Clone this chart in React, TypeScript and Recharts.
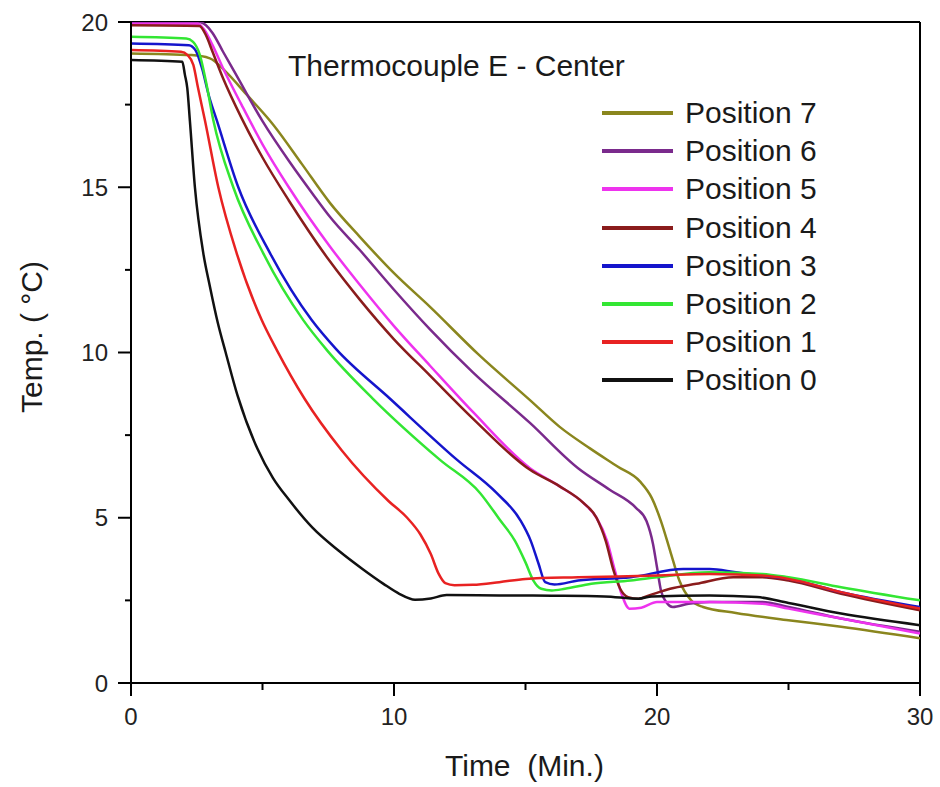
import React from 'react';
import { LineChart, Line, XAxis, YAxis, ReferenceLine } from 'recharts';

const xTicks = [0, 5, 10, 15, 20, 25, 30];
const yTicks = [0, 2.5, 5, 7.5, 10, 12.5, 15, 17.5, 20];

const pos0: [number, number][] = [
  [0, 18.85], [1.95, 18.8], [2.05, 18.4], [2.14, 18.0], [2.24, 17.0], [2.43, 15.0], [2.75, 13.0], [3.0, 12.0],
  [3.3, 10.9], [3.6, 10.0], [4.05, 8.7], [4.8, 7.1], [5.4, 6.2], [6.0, 5.55], [6.9, 4.7], [7.9, 4.0],
  [8.8, 3.45], [9.6, 3.0], [10.2, 2.7], [10.8, 2.52], [11.4, 2.56], [12, 2.66], [14, 2.65], [16, 2.64],
  [18, 2.62], [19.3, 2.55], [19.8, 2.62], [22, 2.65], [23.8, 2.6], [25, 2.42], [27, 2.1], [30, 1.75],
];
const pos1: [number, number][] = [
  [0, 19.15], [1.9, 19.1], [2.15, 19.0], [2.37, 18.7], [2.55, 18.0], [2.81, 17.03], [3.32, 15.0], [4.02, 13.0],
  [4.97, 10.98], [5.54, 10.08], [6.6, 8.6], [8.0, 7.05], [9.8, 5.5], [10.5, 5.0], [11.0, 4.5], [11.4, 3.9],
  [11.7, 3.3], [11.95, 3.02], [12.3, 2.96], [13.0, 2.97], [14, 3.05], [15, 3.15], [17, 3.2], [20, 3.25],
  [22, 3.3], [24, 3.25], [25, 3.15], [27, 2.75], [30, 2.25],
];
const pos2: [number, number][] = [
  [0, 19.55], [2.1, 19.5], [2.36, 19.4], [2.62, 19.0], [2.85, 18.2], [3.13, 17.03], [3.89, 15.0], [5.03, 13.0],
  [6.55, 10.98], [7.44, 10.08], [9.2, 8.6], [11.75, 6.75], [13.27, 5.75], [14.03, 4.93], [14.6, 4.3],
  [15.0, 3.65], [15.3, 3.1], [15.6, 2.85], [16.0, 2.8], [16.5, 2.85], [17.5, 3.0], [19, 3.1], [20, 3.2],
  [22, 3.35], [24, 3.3], [25, 3.2], [27, 2.9], [30, 2.5],
];
const pos3: [number, number][] = [
  [0, 19.35], [2.2, 19.3], [2.45, 19.15], [2.7, 18.6], [2.95, 17.8], [3.26, 17.03], [4.08, 15.0], [5.29, 13.0],
  [6.87, 10.98], [7.8, 10.1], [9.85, 8.6], [12.4, 6.75], [13.9, 5.75], [14.8, 4.93], [15.2, 4.3], [15.5, 3.6],
  [15.75, 3.05], [16.1, 2.98], [17, 3.1], [19, 3.2], [21, 3.45], [22, 3.45], [23, 3.35], [24, 3.25],
  [25, 3.15], [27, 2.75], [30, 2.3],
];
const pos4: [number, number][] = [
  [0, 19.9], [2.6, 19.88], [2.85, 19.6], [3.1, 19.1], [3.5, 18.3], [4.2, 17.1], [5, 15.9], [6, 14.6],
  [7.57, 12.75], [8.7, 11.6], [10, 10.4], [11.37, 9.3], [13, 8.0], [15.17, 6.45], [16.3, 5.95], [17.2, 5.45],
  [17.7, 5.0], [18.05, 4.3], [18.35, 3.4], [18.6, 2.85], [18.9, 2.6], [19.3, 2.55], [19.7, 2.65], [20.5, 2.85],
  [21.5, 3.0], [22.9, 3.2], [24, 3.2], [25, 3.1], [27, 2.7], [30, 2.2],
];
const pos5: [number, number][] = [
  [0, 19.95], [2.55, 19.95], [2.8, 19.75], [3.1, 19.3], [3.5, 18.6], [4.2, 17.5], [5, 16.3], [6, 15.0],
  [7.57, 13.2], [8.7, 12.05], [10, 10.8], [11.37, 9.6], [13, 8.2], [15.17, 6.5], [16.3, 5.95], [17.2, 5.45],
  [17.7, 5.0], [18.1, 4.3], [18.4, 3.4], [18.65, 2.7], [18.95, 2.25], [19.4, 2.28], [20, 2.45], [22, 2.45],
  [24, 2.4], [25, 2.25], [27, 1.95], [30, 1.5],
];
const pos6: [number, number][] = [
  [0, 20], [2.6, 20], [2.85, 19.9], [3.1, 19.67], [3.5, 19.1], [4.0, 18.4], [5, 17.0], [6, 15.8], [7, 14.7],
  [7.57, 14.1], [8.7, 13.1], [10, 11.9], [11.37, 10.7], [13, 9.4], [15.17, 7.87], [17, 6.5], [18.2, 5.85],
  [19.2, 5.3], [19.6, 4.9], [19.85, 4.2], [20.0, 3.5], [20.15, 2.8], [20.35, 2.45], [20.6, 2.3], [21.2, 2.4],
  [22, 2.45], [24, 2.45], [25, 2.3], [27, 1.95], [30, 1.55],
];
const pos7: [number, number][] = [
  [0, 19.05], [2.3, 19.0], [3.0, 18.9], [3.6, 18.5], [4.4, 17.8], [5.4, 16.9], [6.5, 15.7], [7.57, 14.52],
  [8.7, 13.5], [10, 12.4], [11.37, 11.38], [13.2, 9.95], [15.17, 8.56], [16.3, 7.75], [17.45, 7.1],
  [18.5, 6.55], [19.35, 6.1], [19.8, 5.6], [20.15, 4.9], [20.5, 4.0], [20.85, 3.1], [21.3, 2.5], [21.75, 2.3],
  [23, 2.12], [25, 1.9], [27, 1.7], [30, 1.35],
];

const seriesNames = ['Position 7', 'Position 6', 'Position 5', 'Position 4', 'Position 3', 'Position 2', 'Position 1', 'Position 0'];
const seriesColors = ['#8a861e', '#7a2a8c', '#ee33ee', '#8a1c1c', '#1515cc', '#33e633', '#e82222', '#111111'];
const seriesValues = [pos7, pos6, pos5, pos4, pos3, pos2, pos1, pos0];

const FONT = '"Liberation Sans", Arial, sans-serif';

const toData = (arr: [number, number][]) => arr.map(([t, v]) => ({ t, v }));

const XTick = (props: any) => {
  const { x, y, payload } = props;
  const major = payload.value % 10 === 0;
  return (
    <g>
      <line x1={x} y1={y} x2={x} y2={y + (major ? 13 : 7)} stroke="#000" strokeWidth={2} />
      {major && (
        <text x={x} y={y + 42} textAnchor="middle" fontSize={24} fontFamily={FONT} fill="#222">
          {payload.value}
        </text>
      )}
    </g>
  );
};

const YTick = (props: any) => {
  const { x, y, payload } = props;
  const major = payload.value % 5 === 0;
  return (
    <g>
      <line x1={x} y1={y} x2={x - (major ? 13 : 6)} y2={y} stroke="#000" strokeWidth={2} />
      {major && (
        <text x={x - 23} y={y + 8.5} textAnchor="end" fontSize={24} fontFamily={FONT} fill="#222">
          {payload.value}
        </text>
      )}
    </g>
  );
};

export default function App() {
  return (
    <div style={{ position: 'absolute', left: 0, top: 0, width: 940, height: 787, background: '#fff' }}>
      <LineChart width={940} height={787} margin={{ top: 22, right: 20, bottom: 0, left: 0 }}>
        <XAxis
          type="number"
          dataKey="t"
          domain={[0, 30]}
          ticks={xTicks}
          interval={0}
          height={104}
          tickSize={0}
          tickMargin={0}
          tickLine={false}
          axisLine={{ stroke: '#000', strokeWidth: 2 }}
          tick={<XTick />}
          allowDataOverflow
        />
        <YAxis
          type="number"
          domain={[0, 20]}
          ticks={yTicks}
          interval={0}
          width={131}
          tickSize={0}
          tickMargin={0}
          tickLine={false}
          axisLine={{ stroke: '#000', strokeWidth: 2 }}
          tick={<YTick />}
          allowDataOverflow
        />
        <ReferenceLine y={20} stroke="#000" strokeWidth={2} />
        <ReferenceLine x={30} stroke="#000" strokeWidth={2} />
        {seriesValues.map((arr, i) => (
          <Line
            key={seriesNames[i]}
            data={toData(arr)}
            dataKey="v"
            name={seriesNames[i]}
            type="monotone"
            stroke={seriesColors[i]}
            strokeWidth={2.5}
            dot={false}
            activeDot={false}
            isAnimationActive={false}
          />
        ))}
      </LineChart>
      <div style={{ position: 'absolute', left: 602, top: 94, fontFamily: FONT }}>
        {seriesNames.map((n, i) => (
          <div key={n} style={{ display: 'flex', alignItems: 'center', height: 38.2 }}>
            <svg width={71} height={6} style={{ marginRight: 12 }}>
              <line x1={0} y1={3} x2={71} y2={3} stroke={seriesColors[i]} strokeWidth={4} />
            </svg>
            <span style={{ fontSize: 30, color: '#1a1a1a', lineHeight: '38px', whiteSpace: 'nowrap' }}>{n}</span>
          </div>
        ))}
      </div>
      <div style={{ position: 'absolute', left: 288, top: 48, fontFamily: FONT, fontSize: 30, color: '#1a1a1a', whiteSpace: 'nowrap', lineHeight: '36px' }}>
        Thermocouple E - Center
      </div>
      <div style={{ position: 'absolute', left: 445, top: 748, fontFamily: FONT, fontSize: 30, color: '#1a1a1a', whiteSpace: 'pre', lineHeight: '36px' }}>
        {'Time  (Min.)'}
      </div>
      <div
        style={{
          position: 'absolute', left: 32, top: 337, fontFamily: FONT, fontSize: 30, color: '#1a1a1a', whiteSpace: 'pre',
          transform: 'translate(-50%, -50%) rotate(-90deg)', lineHeight: '36px',
        }}
      >
        {'Temp. ( °C)'}
      </div>
    </div>
  );
}
